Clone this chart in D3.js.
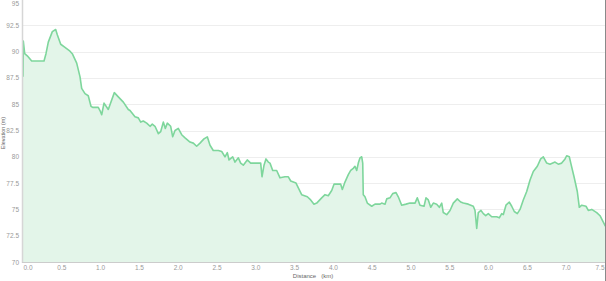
<!DOCTYPE html>
<html>
<head>
<meta charset="utf-8">
<script src="https://cdn.jsdelivr.net/npm/d3@7"></script>
<style>
  html, body { margin: 0; padding: 0; background: #fff; }
  svg { display: block; font-family: "Liberation Sans", Arial, sans-serif; }
</style>
</head>
<body>
<div id="chart"></div>
<script>
// distance along the route (km)
var distance = [0.000, 0.004, 0.022, 0.055, 0.112, 0.271, 0.296, 0.326, 0.378, 0.421,
  0.442, 0.486, 0.541, 0.597, 0.635, 0.692, 0.735, 0.756, 0.799, 0.841,
  0.876, 0.898, 0.970, 0.992, 1.014, 1.044, 1.099, 1.177, 1.228, 1.293,
  1.357, 1.379, 1.443, 1.486, 1.517, 1.550, 1.594, 1.637, 1.666, 1.701,
  1.744, 1.775, 1.808, 1.834, 1.860, 1.903, 1.929, 1.959, 2.001, 2.045,
  2.088, 2.152, 2.195, 2.238, 2.281, 2.332, 2.375, 2.410, 2.452, 2.517,
  2.561, 2.603, 2.633, 2.655, 2.702, 2.732, 2.775, 2.805, 2.839, 2.890,
  2.934, 2.990, 3.032, 3.063, 3.080, 3.106, 3.131, 3.161, 3.183, 3.218,
  3.269, 3.312, 3.376, 3.419, 3.450, 3.518, 3.591, 3.664, 3.707, 3.750,
  3.785, 3.849, 3.892, 3.934, 3.978, 4.008, 4.094, 4.115, 4.149, 4.192,
  4.223, 4.256, 4.278, 4.300, 4.321, 4.343, 4.365, 4.378, 4.385, 4.407,
  4.437, 4.494, 4.536, 4.601, 4.622, 4.665, 4.687, 4.729, 4.764, 4.807,
  4.836, 4.880, 4.936, 4.987, 5.052, 5.081, 5.116, 5.168, 5.193, 5.223,
  5.254, 5.288, 5.331, 5.365, 5.396, 5.416, 5.460, 5.503, 5.545, 5.597,
  5.640, 5.674, 5.738, 5.803, 5.825, 5.847, 5.867, 5.902, 5.932, 5.963,
  5.996, 6.040, 6.104, 6.138, 6.169, 6.189, 6.224, 6.267, 6.298, 6.331,
  6.370, 6.405, 6.447, 6.491, 6.534, 6.576, 6.628, 6.671, 6.705, 6.749,
  6.791, 6.856, 6.898, 6.942, 6.985, 7.006, 7.040, 7.062, 7.101, 7.143,
  7.169, 7.200, 7.255, 7.285, 7.329, 7.393, 7.436, 7.478, 7.504];

// elevation at each distance (m)
var elevation = [87.6, 91.0, 89.8, 89.6, 89.1, 89.1, 89.8, 90.9, 91.9, 92.1,
  91.6, 90.7, 90.4, 90.1, 89.8, 88.9, 87.6, 86.5, 86.0, 85.8,
  84.8, 84.7, 84.7, 84.4, 84.0, 85.1, 84.5, 86.1, 85.7, 85.2,
  84.5, 84.4, 83.8, 83.7, 83.3, 83.4, 83.2, 82.9, 83.1, 82.9,
  82.2, 82.4, 83.3, 82.7, 83.2, 82.9, 81.9, 82.5, 82.7, 82.1,
  81.8, 81.4, 81.3, 81.0, 81.3, 81.7, 81.9, 81.1, 80.6, 80.6,
  80.5, 80.0, 80.4, 79.7, 80.0, 79.5, 79.9, 79.4, 79.2, 79.7,
  79.4, 79.4, 79.4, 79.4, 78.1, 79.2, 79.8, 79.5, 79.4, 78.7,
  78.7, 78.0, 78.1, 78.1, 77.7, 77.5, 76.4, 76.2, 75.9, 75.5,
  75.6, 76.1, 76.4, 76.3, 76.8, 77.4, 77.4, 76.9, 77.6, 78.3,
  78.7, 78.9, 79.1, 78.7, 79.4, 79.9, 80.0, 79.4, 76.4, 76.2,
  75.6, 75.3, 75.5, 75.5, 75.6, 75.5, 76.0, 76.1, 76.5, 76.6,
  76.2, 75.4, 75.5, 75.6, 75.6, 76.1, 75.4, 75.3, 76.1, 75.9,
  75.2, 75.6, 75.5, 75.2, 75.6, 74.7, 74.5, 74.9, 75.6, 76.0,
  75.7, 75.6, 75.5, 75.3, 74.9, 73.2, 74.7, 74.9, 74.6, 74.4,
  74.6, 74.3, 74.3, 74.2, 74.6, 74.5, 75.4, 75.7, 75.3, 74.8,
  74.6, 75.0, 75.9, 76.7, 77.8, 78.6, 79.1, 79.8, 80.0, 79.4,
  79.3, 79.5, 79.3, 79.4, 79.8, 80.1, 80.0, 79.3, 78.1, 76.7,
  75.2, 75.4, 75.3, 74.9, 75.0, 74.7, 74.4, 73.8, 73.4];

var xTicks = [0, 0.5, 1, 1.5, 2, 2.5, 3, 3.5, 4, 4.5, 5, 5.5, 6, 6.5, 7, 7.5];
var yTicks = [70, 72.5, 75, 77.5, 80, 82.5, 85, 87.5, 90, 92.5, 95];

var svgWidth = 606, svgHeight = 281;
var plotLeft = 23, plotRight = 605, plotTop = -1, plotBottom = 262;

var points = distance.map(function(d, i) { return { km: d, m: elevation[i] }; });

var x = d3.scaleLinear().domain([0, 7.5]).range([plotLeft, plotRight]);
var y = d3.scaleLinear().domain([70, 95]).range([plotBottom, plotTop]);

var svg = d3.select("#chart").append("svg")
  .attr("width", svgWidth)
  .attr("height", svgHeight);

// grid lines
svg.append("g").selectAll("line")
  .data(yTicks.slice(1))
  .enter().append("line")
  .attr("x1", plotLeft).attr("x2", plotRight)
  .attr("y1", function(d) { return Math.round(y(d)) + 0.5; })
  .attr("y2", function(d) { return Math.round(y(d)) + 0.5; })
  .attr("stroke", "#eeeeee")
  .attr("stroke-width", 1);

var area = d3.area()
  .x(function(d) { return x(d.km); })
  .y0(plotBottom)
  .y1(function(d) { return y(d.m); });

var line = d3.line()
  .x(function(d) { return x(d.km); })
  .y(function(d) { return y(d.m); });

svg.append("path")
  .datum(points)
  .attr("d", area)
  .attr("fill", "#e3f5e9");

svg.append("path")
  .datum(points)
  .attr("d", line)
  .attr("fill", "none")
  .attr("stroke", "#7ed69c")
  .attr("stroke-width", 1.6)
  .attr("stroke-linejoin", "round");

// y axis line
svg.append("line")
  .attr("x1", plotLeft - 0.5).attr("x2", plotLeft - 0.5)
  .attr("y1", 0).attr("y2", plotBottom + 1)
  .attr("stroke", "#d6d6d6")
  .attr("stroke-width", 1.5);

// x axis line
svg.append("line")
  .attr("x1", plotLeft - 1).attr("x2", plotRight)
  .attr("y1", plotBottom + 0.5).attr("y2", plotBottom + 0.5)
  .attr("stroke", "#cccccc")
  .attr("stroke-width", 1);

// y tick labels
svg.append("g").selectAll("text")
  .data(yTicks)
  .enter().append("text")
  .attr("x", 19)
  .attr("y", function(d) { return Math.max(y(d), 3) + 2.5; })
  .attr("text-anchor", "end")
  .attr("font-size", 6.5)
  .attr("fill", "#999")
  .text(function(d) { return d; });

// x tick labels
svg.append("g").selectAll("text")
  .data(xTicks)
  .enter().append("text")
  .attr("x", function(d) {
    if (d === 0) return x(d) + 5;
    if (d === 7.5) return x(d) - 5;
    return x(d);
  })
  .attr("y", 270)
  .attr("text-anchor", "middle")
  .attr("font-size", 6.5)
  .attr("fill", "#999")
  .text(function(d) { return d3.format(".1f")(d); });

// axis titles
svg.append("text")
  .attr("x", 313)
  .attr("y", 278)
  .attr("text-anchor", "middle")
  .attr("font-size", 6)
  .attr("fill", "#666")
  .style("white-space", "pre")
  .text("Distance   (km)");

svg.append("text")
  .attr("transform", "translate(5,133) rotate(-90)")
  .attr("text-anchor", "middle")
  .attr("font-size", 5.5)
  .attr("fill", "#666")
  .text("Elevation (m)");

// right edge border
svg.append("line")
  .attr("x1", 605.5).attr("x2", 605.5)
  .attr("y1", 0).attr("y2", svgHeight)
  .attr("stroke", "#8a8a8a")
  .attr("stroke-width", 1);
</script>
</body>
</html>
